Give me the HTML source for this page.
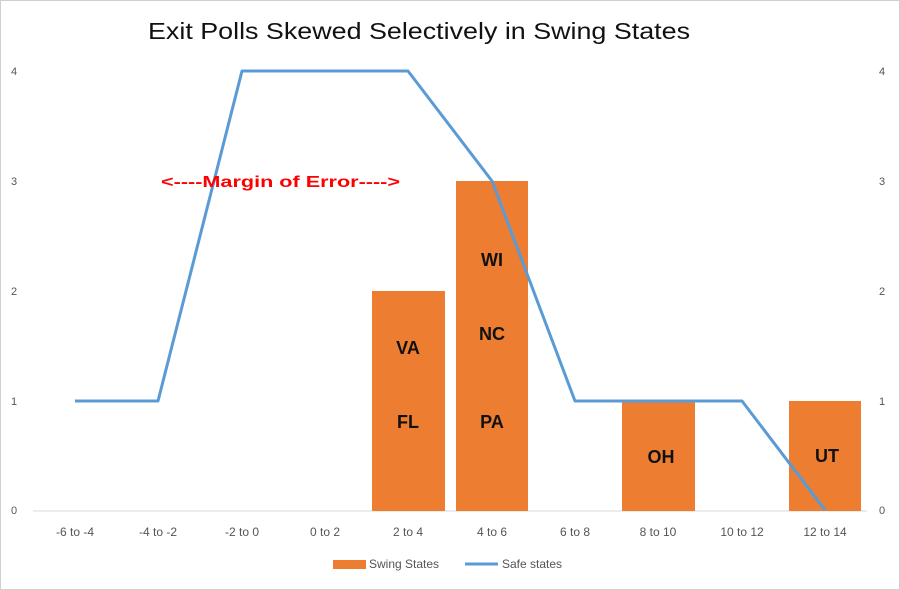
<!DOCTYPE html>
<html><head><style>
html,body{margin:0;padding:0;background:#fff}
svg{display:block}
text{font-family:"Liberation Sans",sans-serif}
</style></head><body>
<svg width="900" height="590" viewBox="0 0 900 590" xmlns="http://www.w3.org/2000/svg">
<rect x="0.5" y="0.5" width="899" height="589" fill="#fff" stroke="#d0d0d0"/>
<text x="148" y="39" font-size="23" textLength="542" lengthAdjust="spacingAndGlyphs" fill="#111">Exit Polls Skewed Selectively in Swing States</text>
<g font-size="11" fill="#555">
<text x="11" y="514">0</text><text x="11" y="405">1</text><text x="11" y="295">2</text><text x="11" y="185">3</text><text x="11" y="75">4</text>
<text x="879" y="514">0</text><text x="879" y="405">1</text><text x="879" y="295">2</text><text x="879" y="185">3</text><text x="879" y="75">4</text>
</g>
<line x1="33" y1="511" x2="867" y2="511" stroke="#d9d9d9" stroke-width="1"/>
<g fill="#ed7d31">
<rect x="372" y="291" width="73" height="220"/>
<rect x="456" y="181" width="72" height="330"/>
<rect x="622" y="401" width="73" height="110"/>
<rect x="789" y="401" width="72" height="110"/>
</g>
<polyline points="75,401 158,401 242,71 408,71 492,181 575,401 742,401 825,510" fill="none" stroke="#5b9bd5" stroke-width="3" stroke-linejoin="round"/>
<g font-size="18" font-weight="bold" fill="#111" text-anchor="middle">
<text x="408" y="354">VA</text><text x="408" y="428">FL</text>
<text x="492" y="266">WI</text><text x="492" y="340">NC</text><text x="492" y="428">PA</text>
<text x="661" y="463">OH</text><text x="827" y="462">UT</text>
</g>
<text x="161" y="187" font-size="16" font-weight="bold" fill="#ff0000" textLength="239" lengthAdjust="spacingAndGlyphs">&lt;----Margin of Error----&gt;</text>
<g font-size="12" fill="#555" text-anchor="middle">
<text x="75" y="536">-6 to -4</text><text x="158" y="536">-4 to -2</text><text x="242" y="536">-2 to 0</text>
<text x="325" y="536">0 to 2</text><text x="408" y="536">2 to 4</text><text x="492" y="536">4 to 6</text>
<text x="575" y="536">6 to 8</text><text x="658" y="536">8 to 10</text><text x="742" y="536">10 to 12</text>
<text x="825" y="536">12 to 14</text>
</g>
<rect x="333" y="560" width="33" height="9" fill="#ed7d31"/>
<text x="369" y="568" font-size="12" fill="#555">Swing States</text>
<line x1="465" y1="564" x2="498" y2="564" stroke="#5b9bd5" stroke-width="3"/>
<text x="502" y="568" font-size="12" fill="#555">Safe states</text>
</svg>
</body></html>
